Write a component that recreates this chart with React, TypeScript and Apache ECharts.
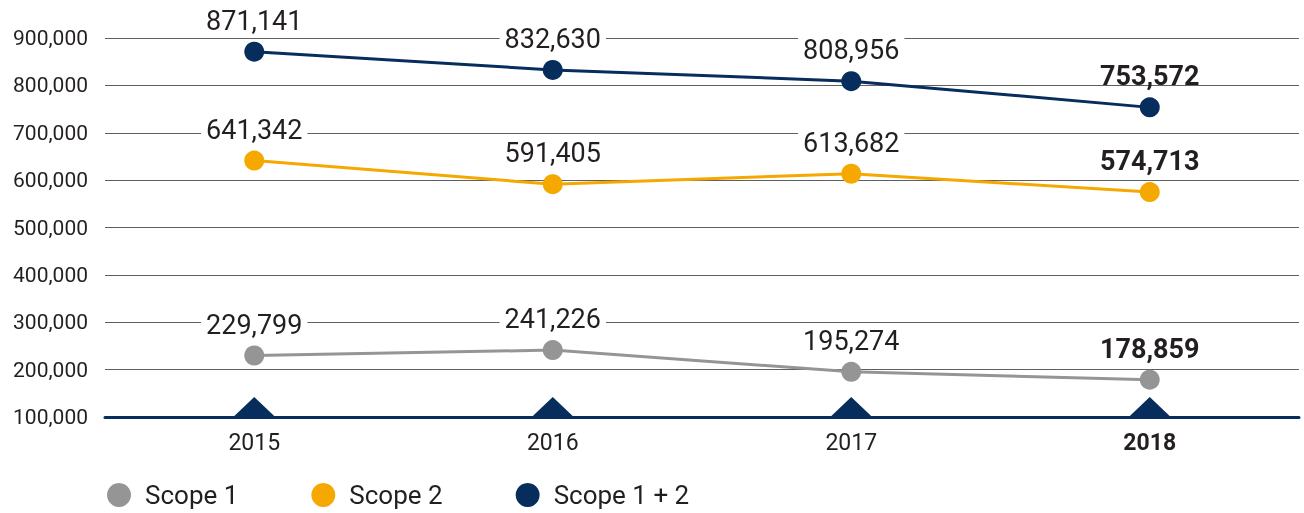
import React, { useEffect, useRef } from "react";
import * as echarts from "echarts";

const categories = ["2015", "2016", "2017", "2018"];
const scope1 = [229799, 241226, 195274, 178859];
const scope2 = [641342, 591405, 613682, 574713];
const scope12 = [871141, 832630, 808956, 753572];
const seriesNames = ["Scope 1", "Scope 2", "Scope 1 + 2"];
const seriesColors = ["#959595", "#f5a800", "#062d5c"];
const yMin = 100000;
const yMax = 900000;
const yInterval = 100000;
const highlightIndex = 3;

const fmt = (v: number) => v.toLocaleString("en-US");

function buildData(values: number[]) {
  return values.map((v, i) =>
    i === highlightIndex
      ? {
          value: v,
          label: {
            fontWeight: "bold",
            backgroundColor: "transparent",
          },
        }
      : v
  );
}

export default function App() {
  const ref = useRef<HTMLDivElement>(null);
  useEffect(() => {
    if (!ref.current) return;
    const chart = echarts.init(ref.current, undefined, { renderer: "svg" });
    const font = "Roboto, sans-serif";
    const lineSeries = [scope1, scope2, scope12].map((vals, idx) => ({
      name: seriesNames[idx],
      type: "line",
      data: buildData(vals),
      symbol: "circle",
      symbolSize: 20,
      z: 3 + idx,
      itemStyle: { color: seriesColors[idx], opacity: 1 },
      lineStyle: { color: seriesColors[idx], width: 3 },
      label: {
        show: true,
        position: "top",
        distance: 8,
        fontFamily: font,
        fontSize: 27,
        color: "#231f20",
        backgroundColor: "#ffffff",
        padding: [0, 5],
        lineHeight: 26,
        formatter: (p: any) => fmt(p.value),
      },
    }));
    chart.setOption({
      animation: false,
      grid: { left: 105, right: 5, top: 38, bottom: 96, containLabel: false },
      legend: {
        data: seriesNames,
        left: 102,
        top: 477,
        icon: "circle",
        itemWidth: 24,
        itemHeight: 24,
        itemGap: 73,
        textStyle: {
          fontFamily: font,
          fontSize: 26,
          color: "#231f20",
          padding: [0, 0, 0, 9],
        },
      },
      xAxis: {
        type: "category",
        data: categories,
        boundaryGap: true,
        axisLine: { show: true, lineStyle: { color: "#062d5c", width: 3 } },
        axisTick: { show: false },
        axisLabel: {
          margin: 14,
          fontFamily: font,
          fontSize: 23,
          color: "#231f20",
          formatter: (v: string, i: number) =>
            i === highlightIndex ? `{b|${v}}` : v,
          rich: {
            b: {
              fontFamily: font,
              fontSize: 23,
              fontWeight: "bold",
              color: "#231f20",
            },
          },
        },
      },
      yAxis: {
        type: "value",
        min: yMin,
        max: yMax,
        interval: yInterval,
        axisLine: { show: false },
        axisTick: { show: false },
        splitLine: { lineStyle: { color: "#5f5f5f", width: 1 } },
        axisLabel: {
          margin: 17,
          fontFamily: font,
          fontSize: 21,
          color: "#231f20",
          formatter: (v: number) => fmt(v),
        },
      },
      series: [
        ...lineSeries,
        {
          name: "marker",
          type: "scatter",
          data: categories.map(() => yMin),
          symbol: "triangle",
          symbolSize: [42, 20],
          symbolOffset: [0, -10],
          itemStyle: { color: "#062d5c", opacity: 1 },
          z: 2,
          silent: true,
        },
      ],
    });
    return () => chart.dispose();
  }, []);
  return (
    <div
      ref={ref}
      style={{ position: "fixed", left: 0, top: 0, width: 1304, height: 513 }}
    />
  );
}
